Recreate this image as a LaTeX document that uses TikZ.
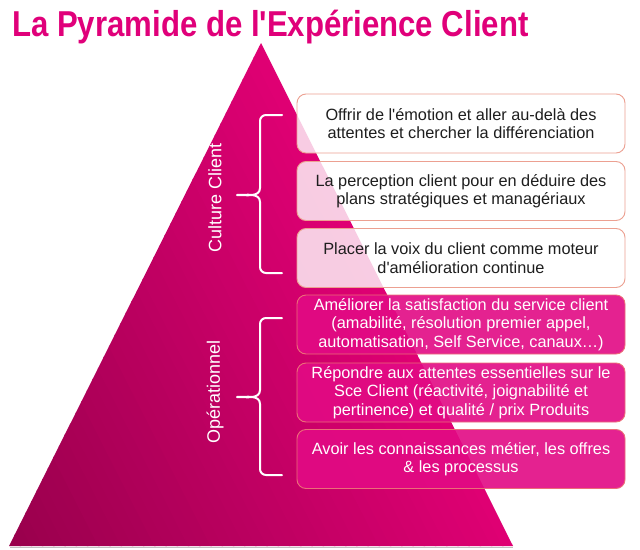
\documentclass[tikz,border=0pt]{standalone}
\usepackage{graphicx}
\usepackage{fontspec}
\setmainfont{Liberation Sans}[Ligatures=TeXOff]
\usetikzlibrary{calc}
\definecolor{titlemag}{RGB}{224,0,122}
\definecolor{pyrtop}{RGB}{224,0,116}
\definecolor{pyrbot}{RGB}{152,0,76}
\definecolor{lightborder}{RGB}{236,160,145}
\definecolor{magfill}{RGB}{226,10,132}
\definecolor{magborder}{RGB}{236,110,120}
\definecolor{darktext}{RGB}{30,30,30}
\tikzset{
  boxbase/.style={rectangle, rounded corners=9pt, minimum width=328pt, minimum height=59pt,
    align=center, inner sep=2pt, line width=0.9pt, font=\fontsize{16.3}{18.6}\selectfont},
  lightbox/.style={boxbase, draw=lightborder, fill=white, fill opacity=0.8, text opacity=1, text=darktext},
  magbox/.style={boxbase, draw=magborder, fill=magfill, fill opacity=0.9, text opacity=1, text=white},
  bracestyle/.style={draw=white, line width=2pt, line cap=round, line join=round},
  sidelabel/.style={text=white, rotate=90, font=\fontsize{18}{20}\selectfont, inner sep=0pt},
}
\begin{document}
\begin{tikzpicture}[x=1pt, y=-1pt]
\useasboundingbox (0,0) rectangle (640,549);
\fill[white] (0,0) rectangle (640,549);

% title
\node[anchor=base west, text=titlemag, font=\fontsize{36}{40}\selectfont\bfseries, inner sep=0pt]
  (title) at (12,36) {\scalebox{0.865}[1]{La Pyramide de l'Expérience Client}};

% pyramid
\coordinate (apex) at (261,43);
\coordinate (bl) at (9,546);
\coordinate (br) at (513,546);
\draw[black!35, line width=1.6pt, opacity=0.7] ($(bl)+(1,1.5)$) -- ($(br)+(0,1.5)$);
\begin{scope}
  \clip (apex) -- (br) -- (bl) -- cycle;
  \begin{scope}[shift={(bl)}, rotate=27]
    \foreach \i in {0,...,47} {
      \pgfmathtruncatemacro\pct{min(100,round((\i*10+5)/4.55))}
      \fill[pyrtop!\pct!pyrbot] (\i*10-0.6,-800) rectangle (\i*10+10.6,800);
    }
  \end{scope}
\end{scope}

% side labels
\node[sidelabel] (culture) at (215,198) {Culture Client};
\node[sidelabel] (operationnel) at (215,392) {Opérationnel};

% braces
\coordinate (b1top) at (282,115);
\coordinate (b1tip) at (237,195);
\coordinate (b1bot) at (282,273);
\draw[bracestyle] (b1top) -- ++(-16,0) to[out=180,in=90] ++(-6,6) -- (260,188)
  to[out=-90,in=0] (b1tip) to[out=0,in=90] (260,202) -- (260,267)
  to[out=-90,in=180] ++(6,6) -- (b1bot);
\coordinate (b2top) at (282,318);
\coordinate (b2tip) at (237,397);
\coordinate (b2bot) at (282,475);
\draw[bracestyle] (b2top) -- ++(-16,0) to[out=180,in=90] ++(-6,6) -- (260,390)
  to[out=-90,in=0] (b2tip) to[out=0,in=90] (260,404) -- (260,469)
  to[out=-90,in=180] ++(6,6) -- (b2bot);

% boxes
\node[lightbox] (box1) at (461,123.5) {Offrir de l'émotion et aller au-delà des\\attentes et chercher la différenciation};
\node[lightbox] (box2) at (461,191) {La perception client pour en déduire des\\plans stratégiques et managériaux};
\node[lightbox] (box3) at (461,258) {Placer la voix du client comme moteur\\d'amélioration continue};
\node[magbox] (box4) at (461,324.5) {Améliorer la satisfaction du service client\\(amabilité, résolution premier appel,\\automatisation, Self Service, canaux…)};
\node[magbox] (box5) at (461,392.5) {Répondre aux attentes essentielles sur le\\Sce Client (réactivité, joignabilité et\\pertinence) et qualité / prix Produits};
\node[magbox] (box6) at (461,459) {Avoir les connaissances métier, les offres\\\& les processus};
\end{tikzpicture}
\end{document}
